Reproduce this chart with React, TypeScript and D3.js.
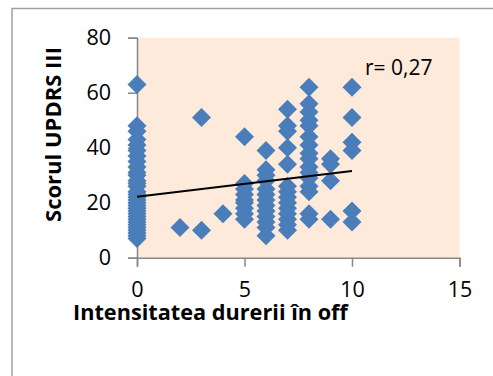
import React, { useRef, useEffect } from 'react';
import * as d3 from 'd3';

// Pain intensity (x) columns and UPDRS III scores (y)
const painLevels = [0, 2, 3, 4, 5, 6, 7, 8, 9, 10];
const scoresByPain: number[][] = [
  [63, 48, 46, 43, 41, 39, 37, 35, 33, 31, 30, 28, 27, 26, 24, 23, 22, 21, 20, 19, 18, 17, 16, 15, 14, 13, 12, 11, 10, 9, 8, 7],
  [11],
  [51, 10],
  [16],
  [44, 27, 25, 23, 21, 20, 18, 16, 14],
  [39, 32, 30, 28, 25, 23, 21, 19, 17, 15, 13, 11, 8],
  [54, 48, 46, 40, 34, 26, 24, 22, 20, 18, 16, 14, 12, 10],
  [62, 56, 53, 50, 48, 44, 41, 38, 36, 33, 31, 29, 26, 24, 16, 14],
  [36, 34, 28, 14],
  [62, 51, 42, 39, 17, 13],
];

// Linear trend line end points [x, y]
const trendStart = [0, 22.2];
const trendEnd = [10, 31.5];

const xTicks = [0, 5, 10, 15];
const yTicks = [0, 20, 40, 60, 80];

const xTitle = 'Intensitatea durerii în off';
const yTitle = 'Scorul UPDRS III';
const rLabel = 'r= 0,27';

const font = '"Open Sans", sans-serif';

const ScatterChart = ({ width = 493, height = 376 }) => {
  const ref = useRef<SVGSVGElement>(null);

  useEffect(() => {
    const svg = d3.select(ref.current);
    svg.selectAll('*').remove();

    const points = painLevels.flatMap((p, i) => scoresByPain[i].map(s => ({ x: p, y: s })));

    const plot = { left: 137, right: 459.5, top: 37.7, bottom: 257.7 };

    const x = d3.scaleLinear().domain([0, 15]).range([plot.left, plot.right]);
    const y = d3.scaleLinear().domain([0, 80]).range([plot.bottom, plot.top]);

    // outer chart frame (cut off on right and bottom)
    svg.append('rect')
      .attr('x', 12).attr('y', 8.5)
      .attr('width', width).attr('height', height)
      .attr('fill', 'white')
      .attr('stroke', '#a0a0a0')
      .attr('stroke-width', 1.5);

    // plot background
    svg.append('rect')
      .attr('x', plot.left).attr('y', plot.top)
      .attr('width', plot.right - plot.left)
      .attr('height', plot.bottom - plot.top)
      .attr('fill', '#fdeada');

    const axisColor = '#878787';

    // Y axis
    const yAxis = svg.append('g')
      .attr('transform', `translate(${plot.left}, 0)`)
      .call(d3.axisLeft(y).tickValues(yTicks).tickSize(9).tickPadding(17));
    yAxis.select('.domain').attr('stroke', axisColor).attr('stroke-width', 1.5);
    yAxis.selectAll('.tick line').attr('stroke', axisColor).attr('stroke-width', 1.5);
    yAxis.selectAll('text')
      .attr('fill', '#000')
      .style('font-family', font)
      .style('font-size', '21.5px');

    // X axis
    const xAxis = svg.append('g')
      .attr('transform', `translate(0, ${plot.bottom})`)
      .call(d3.axisBottom(x).tickValues(xTicks).tickSize(9).tickPadding(15));
    xAxis.select('.domain').attr('stroke', axisColor).attr('stroke-width', 1.5);
    xAxis.selectAll('.tick line').attr('stroke', axisColor).attr('stroke-width', 1.5);
    xAxis.selectAll('text')
      .attr('fill', '#000')
      .style('font-family', font)
      .style('font-size', '21.5px');

    // Diamonds
    const r = 9.5;
    const diamond = `M0,${-r}L${r},0L0,${r}L${-r},0Z`;
    svg.append('g')
      .selectAll('path')
      .data(points)
      .join('path')
      .attr('d', diamond)
      .attr('transform', d => `translate(${x(d.x)}, ${y(d.y)})`)
      .attr('fill', '#4a7ebb');

    // Trend line
    svg.append('line')
      .attr('x1', x(trendStart[0])).attr('y1', y(trendStart[1]))
      .attr('x2', x(trendEnd[0])).attr('y2', y(trendEnd[1]))
      .attr('stroke', '#000')
      .attr('stroke-width', 2);

    // r label
    svg.append('text')
      .attr('x', 365).attr('y', 75)
      .style('font-family', font)
      .style('font-size', '21px')
      .text(rLabel);

    // Axis titles
    svg.append('text')
      .attr('x', 73).attr('y', 320)
      .style('font-family', font)
      .style('font-size', '21.7px')
      .style('font-weight', 'bold')
      .text(xTitle);

    svg.append('text')
      .attr('transform', `translate(61, 134.5) rotate(-90)`)
      .attr('text-anchor', 'middle')
      .style('font-family', font)
      .style('font-size', '22px')
      .style('font-weight', 'bold')
      .text(yTitle);
  }, [width, height]);

  return <svg ref={ref} width={width} height={height} style={{ position: 'fixed', left: 0, top: 0 }} />;
};

export default function App() {
  return <ScatterChart />;
}
